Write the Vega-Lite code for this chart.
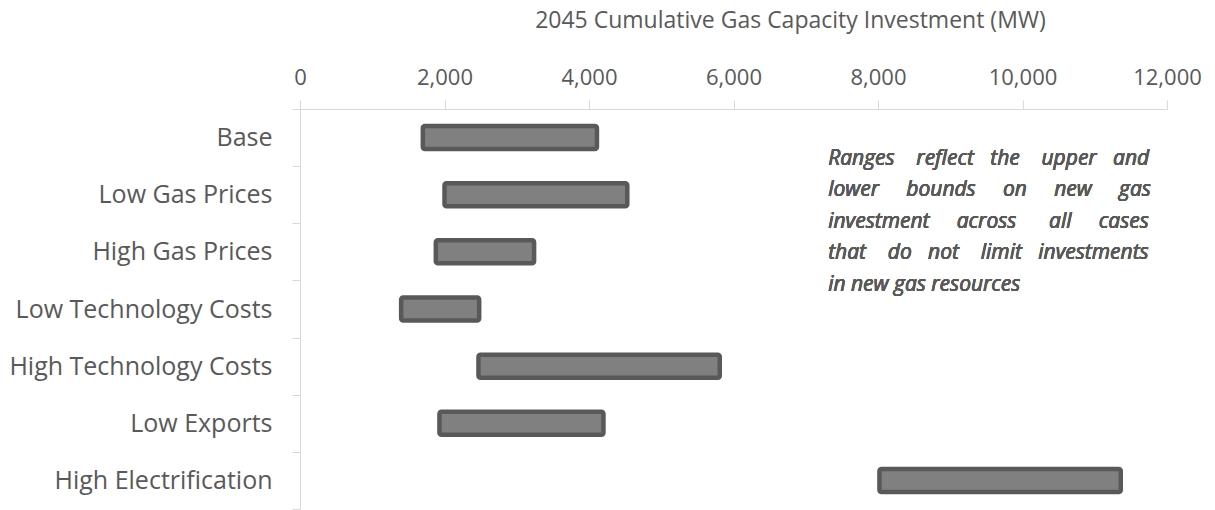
{
  "$schema": "https://vega.github.io/schema/vega-lite/v6.json",
  "width": 867,
  "height": 400,
  "autosize": "none",
  "padding": {"left": 300, "top": 109, "right": 48, "bottom": 1},
  "background": "white",
  "config": {
    "view": {"stroke": null},
    "font": "Open Sans"
  },
  "data": {
    "values": [
      {"case": "Base", "low": 1700, "high": 4110},
      {"case": "Low Gas Prices", "low": 2000, "high": 4530},
      {"case": "High Gas Prices", "low": 1880, "high": 3240},
      {"case": "Low Technology Costs", "low": 1400, "high": 2480},
      {"case": "High Technology Costs", "low": 2470, "high": 5810},
      {"case": "Low Exports", "low": 1930, "high": 4200},
      {"case": "High Electrification", "low": 8020, "high": 11360}
    ]
  },
  "layer": [
    {
      "mark": {"type": "bar", "fill": "#808080", "stroke": "#595959", "strokeWidth": 4.5, "cornerRadius": 2, "height": 23},
      "encoding": {
        "y": {
          "field": "case",
          "type": "nominal",
          "sort": null,
          "scale": {"paddingInner": 0, "paddingOuter": 0},
          "axis": {
            "title": null,
            "tickBand": "extent",
            "domainColor": "#d9d9d9",
            "tickColor": "#d9d9d9",
            "tickSize": 8,
            "labelPadding": 20,
            "labelFontSize": 25,
            "labelLimit": 400,
            "labelColor": "#595959",
            "labelFont": "Open Sans"
          }
        },
        "x": {
          "field": "low",
          "type": "quantitative",
          "scale": {"domain": [0, 12000], "nice": false},
          "axis": {
            "orient": "top",
            "title": "2045 Cumulative Gas Capacity Investment (MW)",
            "titleFontSize": 23,
            "titleFontWeight": "normal",
            "titleColor": "#595959",
            "titleFont": "Open Sans",
            "titlePadding": 34,
            "titleX": 490,
            "titleAnchor": "middle",
            "titleAlign": "center",
            "values": [0, 2000, 4000, 6000, 8000, 10000, 12000],
            "format": ",d",
            "grid": false,
            "domainColor": "#d9d9d9",
            "tickColor": "#d9d9d9",
            "tickSize": 9,
            "labelPadding": 11,
            "labelFontSize": 22,
            "labelColor": "#595959",
            "labelFont": "Open Sans",
            "labelFlush": false
          }
        },
        "x2": {"field": "high"}
      }
    },
    {
      "mark": {
        "type": "text",
        "align": "left",
        "baseline": "middle",
        "fontStyle": "italic",
        "fontWeight": "normal",
        "fontSize": 21,
        "color": "#595959",
        "lineHeight": 31.5,
        "dy": -36,
        "font": "Open Sans"
      },
      "encoding": {
        "x": {"datum": 7310},
        "y": {"datum": "Low Gas Prices"},
        "text": {"value": ["Ranges\u00a0\u00a0\u00a0 reflect\u00a0\u00a0 the\u00a0\u00a0\u00a0 upper\u00a0\u00a0 and", "lower\u00a0\u00a0\u00a0\u00a0 bounds\u00a0\u00a0\u00a0\u00a0 on\u00a0\u00a0\u00a0\u00a0 new\u00a0\u00a0\u00a0\u00a0 gas", "investment\u00a0\u00a0\u00a0\u00a0 across\u00a0\u00a0\u00a0\u00a0\u00a0 all\u00a0\u00a0\u00a0\u00a0 cases", "that\u00a0\u00a0\u00a0 do\u00a0\u00a0 not\u00a0\u00a0\u00a0 limit\u00a0\u00a0 investments", "in new gas resources"]}
      }
    }
  ]
}
